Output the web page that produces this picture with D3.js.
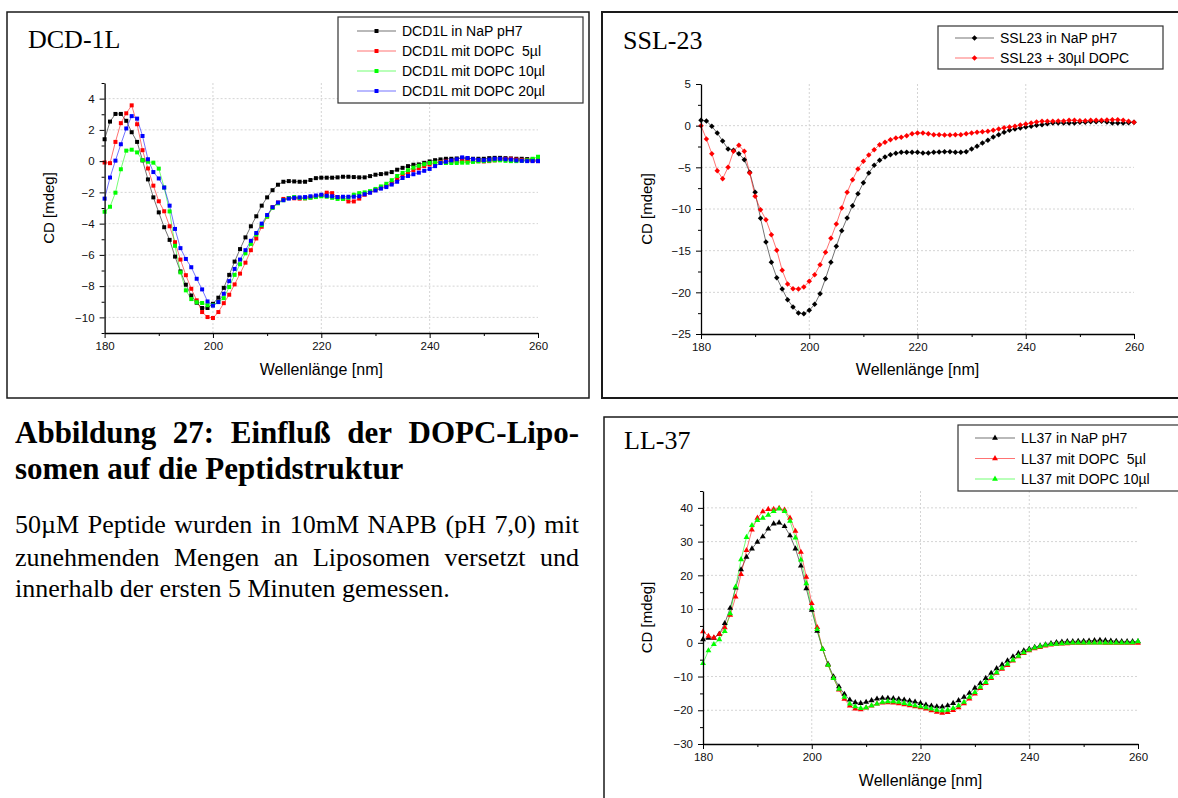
<!DOCTYPE html>
<html>
<head>
<meta charset="utf-8">
<script src="https://cdn.jsdelivr.net/npm/d3@7"></script>
<style>
body { margin: 0; background: #fff; }
svg { display: block; }
</style>
</head>
<body>
<svg id="fig" width="1178" height="798"></svg>
<script>
// ===================== data =====================
var wavelength = [180,181,182,183,184,185,186,187,188,189,190,191,192,193,194,195,196,197,198,199,
	200,201,202,203,204,205,206,207,208,209,210,211,212,213,214,215,216,217,218,219,
	220,221,222,223,224,225,226,227,228,229,230,231,232,233,234,235,236,237,238,239,
	240,241,242,243,244,245,246,247,248,249,250,251,252,253,254,255,256,257,258,259,260];

// DCD-1L
var dcdNaP = [1.40,2.53,3.02,3.02,2.58,1.85,1.23,0.05,-1.17,-2.32,
	-3.28,-4.23,-5.04,-6.11,-7.06,-7.91,-8.60,-9.06,-9.40,-9.40,
	-9.13,-8.74,-8.11,-7.28,-6.43,-5.63,-4.88,-4.17,-3.53,-2.85,
	-2.32,-1.86,-1.51,-1.32,-1.28,-1.30,-1.32,-1.32,-1.21,-1.09,
	-1.06,-1.06,-1.06,-1.04,-1.00,-1.00,-1.02,-1.04,-1.04,-0.96,
	-0.87,-0.83,-0.79,-0.70,-0.55,-0.43,-0.32,-0.23,-0.21,-0.11,
	-0.02,0.06,0.11,0.15,0.15,0.17,0.19,0.17,0.15,0.15,
	0.15,0.19,0.21,0.21,0.19,0.17,0.15,0.15,0.13,0.10,0.05];
var dcdDopc5 = [-0.09,-0.13,1.23,2.43,3.06,3.57,2.36,0.70,-0.47,-1.57,
	-2.57,-3.21,-4.17,-5.19,-6.30,-7.30,-8.17,-8.91,-9.66,-9.98,
	-10.04,-9.66,-9.09,-8.55,-7.89,-7.20,-6.50,-5.70,-4.95,-4.20,
	-3.55,-2.95,-2.65,-2.42,-2.36,-2.38,-2.40,-2.38,-2.32,-2.25,
	-2.20,-2.02,-2.05,-2.30,-2.40,-2.58,-2.58,-2.40,-2.15,-2.00,
	-1.85,-1.72,-1.58,-1.40,-1.15,-0.90,-0.74,-0.58,-0.46,-0.32,
	-0.22,-0.12,-0.06,-0.02,0.00,0.00,0.02,0.02,0.00,0.00,
	-0.02,0.00,0.05,0.12,0.14,0.15,0.10,0.08,0.05,0.02,0.00];
var dcdDopc10 = [-3.24,-2.92,-2.02,-0.52,0.67,0.73,0.56,0.06,-0.04,-0.10,
	-0.48,-1.69,-3.22,-5.42,-7.12,-8.27,-8.83,-9.03,-9.08,-9.22,
	-9.22,-9.02,-8.77,-8.06,-7.28,-6.60,-5.90,-5.30,-4.70,-4.10,
	-3.55,-3.00,-2.70,-2.50,-2.36,-2.30,-2.36,-2.38,-2.35,-2.30,
	-2.25,-2.28,-2.35,-2.42,-2.42,-2.35,-2.15,-2.05,-2.00,-1.92,
	-1.78,-1.62,-1.45,-1.22,-0.95,-0.75,-0.58,-0.42,-0.30,-0.20,
	-0.12,-0.10,-0.10,-0.12,-0.12,-0.12,-0.10,-0.10,-0.05,-0.02,
	0.00,0.02,0.05,0.05,0.02,0.00,0.00,0.02,0.05,0.15,0.28];
var dcdDopc20 = [-2.40,-1.05,0.03,1.08,2.09,2.88,2.72,1.61,0.12,-0.70,
	-1.11,-1.69,-2.85,-4.34,-5.57,-6.26,-6.79,-7.53,-8.21,-8.98,
	-9.25,-9.02,-8.49,-7.68,-6.90,-6.30,-5.70,-5.10,-4.60,-4.00,
	-3.45,-2.95,-2.65,-2.50,-2.40,-2.35,-2.32,-2.30,-2.25,-2.20,
	-2.15,-2.22,-2.25,-2.30,-2.28,-2.28,-2.28,-2.25,-2.12,-2.02,
	-1.88,-1.76,-1.66,-1.50,-1.32,-1.08,-0.95,-0.84,-0.74,-0.62,
	-0.50,-0.32,-0.12,-0.04,0.05,0.12,0.24,0.20,0.12,0.08,
	0.06,0.10,0.15,0.15,0.12,0.10,0.05,0.02,0.00,0.00,0.00];

// SSL-23
var sslNaP = [0.64,0.56,-0.08,-0.88,-1.84,-2.80,-2.96,-3.36,-4.08,-5.60,
	-8.00,-11.12,-13.96,-16.40,-18.24,-19.60,-20.88,-21.76,-22.48,-22.56,
	-22.16,-21.44,-20.16,-18.36,-16.40,-14.48,-12.60,-11.08,-9.60,-8.16,
	-6.84,-5.68,-4.76,-4.16,-3.76,-3.48,-3.32,-3.20,-3.20,-3.20,
	-3.20,-3.28,-3.28,-3.20,-3.16,-3.12,-3.12,-3.20,-3.20,-3.12,
	-2.80,-2.48,-2.08,-1.76,-1.36,-1.08,-0.80,-0.56,-0.40,-0.28,
	-0.16,-0.08,0.04,0.12,0.24,0.32,0.32,0.32,0.32,0.32,
	0.40,0.40,0.48,0.48,0.52,0.44,0.32,0.32,0.32,0.36,0.40];
var sslDopc30 = [0.00,-1.60,-3.36,-5.40,-6.36,-5.00,-3.08,-2.36,-3.08,-5.68,
	-8.48,-10.08,-11.28,-13.08,-14.96,-17.36,-19.00,-19.56,-19.60,-19.36,
	-18.68,-17.88,-16.68,-15.20,-13.52,-11.80,-9.88,-8.00,-6.48,-5.20,
	-4.28,-3.52,-2.88,-2.28,-2.00,-1.68,-1.48,-1.40,-1.20,-0.96,
	-0.88,-0.88,-0.96,-1.08,-1.08,-1.12,-1.12,-1.08,-1.08,-0.96,
	-0.88,-0.80,-0.72,-0.68,-0.56,-0.40,-0.24,-0.16,-0.08,0.08,
	0.20,0.32,0.44,0.52,0.52,0.52,0.56,0.56,0.64,0.64,
	0.60,0.60,0.64,0.64,0.64,0.68,0.72,0.72,0.64,0.52,0.40];

// LL-37
var llNaP = [1.0,1.4,1.4,2.6,5.75,10.3,16.3,21.7,25.4,27.9,
	29.9,31.5,33.8,35.3,35.6,34.5,31.8,27.9,22.8,16.1,
	9.7,3.5,-1.9,-6.3,-10.0,-13.0,-15.2,-16.9,-17.7,-17.9,
	-17.6,-17.1,-16.6,-16.4,-16.4,-16.5,-16.7,-16.9,-17.2,-17.5,
	-17.9,-18.4,-18.7,-18.9,-19.0,-18.6,-17.9,-17.1,-16.1,-14.9,
	-13.4,-12.0,-10.5,-9.0,-7.6,-6.5,-5.3,-4.1,-3.1,-2.3,
	-1.8,-1.3,-0.9,-0.55,-0.15,0.15,0.3,0.4,0.4,0.5,
	0.5,0.6,0.7,0.8,0.7,0.6,0.5,0.4,0.4,0.4,0.4];
var llDopc5 = [3.3,2.0,1.5,2.6,4.5,8.2,13.6,20.3,27.4,33.5,
	37.0,38.9,39.6,39.6,39.9,39.4,37.0,33.1,26.9,19.5,
	11.7,4.6,-1.9,-6.6,-10.5,-13.9,-16.7,-18.7,-19.6,-19.8,
	-19.3,-18.7,-18.1,-17.8,-17.7,-17.8,-18.0,-18.3,-18.6,-18.9,
	-19.2,-19.6,-20.1,-20.5,-20.8,-20.6,-20.0,-19.2,-18.0,-16.6,
	-15.1,-13.5,-12.0,-10.5,-9.0,-7.8,-6.7,-5.3,-4.1,-3.1,
	-2.3,-1.7,-1.3,-0.9,-0.6,-0.4,-0.3,-0.2,-0.1,-0.1,
	-0.1,0.0,0.0,0.0,-0.1,-0.1,-0.1,-0.1,-0.1,-0.1,-0.1];
var llDopc10 = [-6.1,-2.3,-0.45,1.0,3.4,8.7,16.6,24.7,31.3,34.8,
	36.3,37.0,37.9,39.0,39.7,39.0,36.1,31.1,24.6,17.6,
	10.2,4.0,-1.9,-6.6,-10.5,-13.7,-16.1,-18.1,-18.9,-19.4,
	-19.2,-18.6,-18.1,-17.6,-17.4,-17.4,-17.6,-17.9,-18.2,-18.6,
	-18.9,-19.2,-19.6,-19.9,-20.1,-19.9,-19.4,-18.6,-17.6,-16.1,
	-14.7,-13.1,-11.7,-10.2,-8.8,-7.5,-6.3,-5.1,-3.9,-2.9,
	-2.1,-1.5,-1.1,-0.7,-0.45,-0.35,-0.25,-0.1,0.0,0.0,
	0.0,0.0,0.0,0.0,0.0,0.0,0.0,0.0,0.0,0.05,0.4];

// ticks
var xTicks = [180, 200, 220, 240, 260];
var xMinor = [190, 210, 230, 250];
var dcdTicks = [-10, -8, -6, -4, -2, 0, 2, 4];
var dcdMinor = [-11, -9, -7, -5, -3, -1, 1, 3, 5];
var sslTicks = [-25, -20, -15, -10, -5, 0, 5];
var sslMinor = [-22.5, -17.5, -12.5, -7.5, -2.5, 2.5];
var llTicks = [-30, -20, -10, 0, 10, 20, 30, 40];
var llMinor = [-25, -15, -5, 5, 15, 25, 35, 45];

// caption text
var headLines = ["Abbildung 27: Einfluß der DOPC-Lipo-", "somen auf die Peptidstruktur"];
var bodyLines = ["50µM Peptide wurden in 10mM NAPB (pH 7,0) mit",
	"zunehmenden Mengen an Liposomen versetzt und",
	"innerhalb der ersten 5 Minuten gemessen."];

var SANS = '"Liberation Sans", Arial, sans-serif';
var SERIF = '"Liberation Serif", "Times New Roman", serif';
var svg = d3.select("#fig");

svg.append("rect").attr("width", 1178).attr("height", 798).attr("fill", "#fff");

//=============== CD panel ===============
function drawPanel(p) {
	// frame
	svg.append("rect")
		.attr("x", p.box[0]).attr("y", p.box[1])
		.attr("width", p.box[2] - p.box[0]).attr("height", p.box[3] - p.box[1])
		.attr("fill", "none")
		.attr("stroke", "#1a1a1a")
		.attr("stroke-width", p.frameWidth);

	// title
	svg.append("text")
		.attr("x", p.titleX).attr("y", p.titleY)
		.style("font-family", SERIF)
		.style("font-size", "26px")
		.text(p.title);

	var x = d3.scaleLinear().domain([180, 260]).range([p.left, p.right]);
	var y = d3.scaleLinear().domain(p.yDomain).range([p.bottom, p.top]);

	// dotted grid
	var grid = svg.append("g")
		.attr("stroke", "#d4d4d4")
		.attr("stroke-width", 1)
		.attr("stroke-dasharray", "2,2");
	grid.selectAll(".gx")
		.data(xTicks.filter(d => d > 180 && d < 260))
		.enter().append("line")
		.attr("x1", d => x(d)).attr("x2", d => x(d))
		.attr("y1", p.top).attr("y2", p.bottom);
	grid.selectAll(".gy")
		.data(p.yTicks.filter(d => d > p.yDomain[0] && d < p.yDomain[1]))
		.enter().append("line")
		.attr("x1", p.left).attr("x2", p.right)
		.attr("y1", d => y(d)).attr("y2", d => y(d));

	// series
	var line = d3.line()
		.x((d, i) => x(wavelength[i]))
		.y(d => y(d));

	p.series.forEach(function(s) {
		svg.append("path")
			.datum(s.values)
			.attr("d", line)
			.attr("fill", "none")
			.attr("stroke", s.color)
			.attr("stroke-opacity", 0.55)
			.attr("stroke-width", 1);
	});
	p.series.forEach(function(s) {
		svg.append("g").selectAll("path")
			.data(s.values)
			.enter().append("path")
			.attr("d", d3.symbol().type(p.symbol).size(p.symbolSize))
			.attr("transform", (d, i) => `translate(${x(wavelength[i])},${y(d)}) rotate(${p.symbolRotate})`)
			.attr("fill", s.color);
	});

	// axes
	var xAxis = svg.append("g")
		.attr("transform", `translate(0,${p.bottom})`)
		.call(d3.axisBottom(x).tickValues(xTicks).tickSize(5).tickSizeOuter(0).tickPadding(4));
	svg.append("g")
		.attr("transform", `translate(0,${p.bottom})`)
		.call(d3.axisBottom(x).tickValues(xMinor).tickSize(3).tickSizeOuter(0).tickFormat(""))
		.select(".domain").remove();
	var yAxis = svg.append("g")
		.attr("transform", `translate(${p.left},0)`)
		.call(d3.axisLeft(y).tickValues(p.yTicks).tickSize(5).tickSizeOuter(0).tickPadding(5));
	svg.append("g")
		.attr("transform", `translate(${p.left},0)`)
		.call(d3.axisLeft(y).tickValues(p.yMinor).tickSize(3).tickSizeOuter(0).tickFormat(""))
		.select(".domain").remove();

	svg.selectAll(".domain").attr("stroke", "#000").attr("stroke-width", 1.3);
	svg.selectAll(".tick line").attr("stroke", "#000");
	[xAxis, yAxis].forEach(a => a.selectAll("text")
		.style("font-family", SANS)
		.style("font-size", "11.5px")
		.attr("fill", "#111"));

	// axis titles
	svg.append("text")
		.attr("x", (p.left + p.right) / 2)
		.attr("y", p.xTitleY)
		.attr("text-anchor", "middle")
		.style("font-family", SANS)
		.style("font-size", "16px")
		.text("Wellenlänge [nm]");
	svg.append("text")
		.attr("transform", `translate(${p.yTitleX},${(p.top + p.bottom) / 2}) rotate(-90)`)
		.attr("text-anchor", "middle")
		.style("font-family", SANS)
		.style("font-size", "15px")
		.text("CD [mdeg]");

	// legend
	var L = p.legend;
	svg.append("rect")
		.attr("x", L.x).attr("y", L.y)
		.attr("width", L.w).attr("height", L.h)
		.attr("fill", "#fff")
		.attr("stroke", "#333")
		.attr("stroke-width", 1.2);
	p.series.forEach(function(s, i) {
		var ly = L.rowY + i * L.rowGap;
		svg.append("line")
			.attr("x1", L.x0).attr("x2", L.x1)
			.attr("y1", ly).attr("y2", ly)
			.attr("stroke", s.color)
			.attr("stroke-opacity", 0.55);
		svg.append("path")
			.attr("d", d3.symbol().type(p.symbol).size(p.symbolSize))
			.attr("transform", `translate(${(L.x0 + L.x1) / 2},${ly}) rotate(${p.symbolRotate})`)
			.attr("fill", s.color);
		svg.append("text")
			.attr("x", L.tx).attr("y", ly)
			.attr("dy", "0.36em")
			.attr("xml:space", "preserve")
			.style("white-space", "pre")
			.style("font-family", SANS)
			.style("font-size", "14px")
			.text(s.name);
	});
}

drawPanel({
	box: [7, 12, 589, 398], frameWidth: 1.5,
	title: "DCD-1L", titleX: 28, titleY: 48,
	left: 104.6, right: 538, top: 83, bottom: 333,
	yDomain: [-11, 5], yTicks: dcdTicks, yMinor: dcdMinor,
	xTitleY: 375, yTitleX: 54,
	symbol: d3.symbolSquare, symbolSize: 16, symbolRotate: 0,
	legend: { x: 338, y: 17, w: 245, h: 86, rowY: 31, rowGap: 20, x0: 357, x1: 396, tx: 402 },
	series: [
		{ name: "DCD1L in NaP pH7", values: dcdNaP, color: "#000000" },
		{ name: "DCD1L mit DOPC  5µl", values: dcdDopc5, color: "#ff0000" },
		{ name: "DCD1L mit DOPC 10µl", values: dcdDopc10, color: "#00ff00" },
		{ name: "DCD1L mit DOPC 20µl", values: dcdDopc20, color: "#0000ff" }
	]
});

drawPanel({
	box: [602, 12, 1182, 398], frameWidth: 2,
	title: "SSL-23", titleX: 623, titleY: 49,
	left: 701, right: 1134, top: 84, bottom: 334,
	yDomain: [-25, 5], yTicks: sslTicks, yMinor: sslMinor,
	xTitleY: 375, yTitleX: 652,
	symbol: d3.symbolSquare, symbolSize: 15, symbolRotate: 45,
	legend: { x: 938, y: 26, w: 225, h: 43, rowY: 38, rowGap: 20, x0: 955, x1: 994, tx: 1000 },
	series: [
		{ name: "SSL23 in NaP pH7", values: sslNaP, color: "#000000" },
		{ name: "SSL23 + 30µl DOPC", values: sslDopc30, color: "#ff0000" }
	]
});

drawPanel({
	box: [604, 417, 1182, 802], frameWidth: 1.5,
	title: "LL-37", titleX: 624, titleY: 449,
	left: 703, right: 1138, top: 491, bottom: 744,
	yDomain: [-30, 45], yTicks: llTicks, yMinor: llMinor,
	xTitleY: 786, yTitleX: 652,
	symbol: d3.symbolTriangle, symbolSize: 15, symbolRotate: 0,
	legend: { x: 958, y: 425, w: 230, h: 66, rowY: 438, rowGap: 20.5, x0: 975, x1: 1015, tx: 1021 },
	series: [
		{ name: "LL37 in NaP pH7", values: llNaP, color: "#000000" },
		{ name: "LL37 mit DOPC  5µl", values: llDopc5, color: "#ff0000" },
		{ name: "LL37 mit DOPC 10µl", values: llDopc10, color: "#00ff00" }
	]
});

//=============== caption (justified) ===============
function textLine(str, x0, x1, yb, size, weight, justify) {
	var g = svg.append("g")
		.style("font-family", SERIF)
		.style("font-size", size + "px")
		.style("font-weight", weight);
	if (!justify) {
		g.append("text").attr("x", x0).attr("y", yb).text(str);
		return;
	}
	var words = str.split(" ");
	var nodes = words.map(w => g.append("text").attr("y", yb).text(w));
	var widths = nodes.map(n => n.node().getComputedTextLength());
	var gap = (x1 - x0 - d3.sum(widths)) / (words.length - 1);
	var cx = x0;
	nodes.forEach(function(n, i) {
		n.attr("x", cx);
		cx += widths[i] + gap;
	});
}

textLine(headLines[0], 15, 579, 443, 31, "bold", true);
textLine(headLines[1], 15, 579, 479, 31, "bold", false);
textLine(bodyLines[0], 15, 579, 533, 26, "normal", true);
textLine(bodyLines[1], 15, 579, 566, 26, "normal", true);
textLine(bodyLines[2], 15, 579, 597, 26, "normal", false);
</script>
</body>
</html>
